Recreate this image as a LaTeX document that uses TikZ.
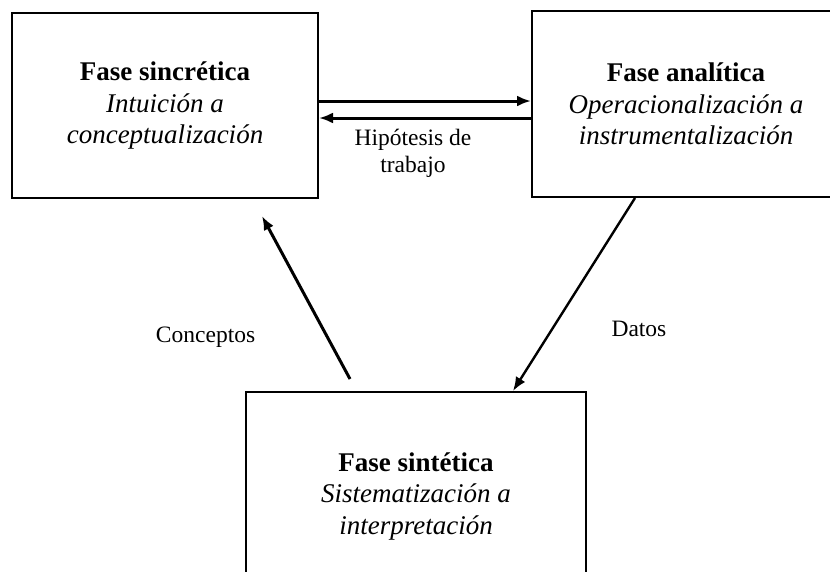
\documentclass[tikz,border=0pt]{standalone}
\usepackage{fontspec}
\setmainfont{Liberation Serif}
\usetikzlibrary{arrows.meta}

\begin{document}
\begin{tikzpicture}[x=1pt, y=-1pt, thick,
		fase/.style={draw, line width=2pt, align=center, font=\fontsize{27}{31.5}\selectfont},
		flecha/.style={line width=3pt, -{Latex[length=14pt, width=11pt]}},
		etiqueta/.style={font=\fontsize{23.5}{27}\selectfont, align=center}]
			\useasboundingbox (0,0) rectangle (830,571);
			\clip (0,0) rectangle (830,571);
			\node (A) at (165,105.5) [fase, minimum width=306pt, minimum height=185pt] {\textbf{Fase sincrética} \\ \textit{Intuición a} \\ \textit{conceptualización}};
			\node (B) at (686,104) [fase, minimum width=308pt, minimum height=186pt] {\textbf{Fase analítica} \\ \textit{Operacionalización a} \\ \textit{instrumentalización}};
			\node (C) at (416,496) [fase, minimum width=340pt, minimum height=208pt] {\textbf{Fase sintética} \\ \textit{Sistematización a} \\ \textit{interpretación}};
			\draw[flecha] ([yshift=4.5pt]A.east) -- ([yshift=4.5pt]A.east -| B.west);
			\draw[flecha] ([yshift=-12.5pt]A.east -| B.west) -- ([yshift=-12.5pt]A.east) node[midway, below, etiqueta, xshift=-12pt, yshift=-6pt] {Hipótesis de \\ trabajo};
			\draw[flecha] ([xshift=-66pt, yshift=12pt]C.north) -- ([xshift=97pt, yshift=-17pt]A.south) node[midway, left, etiqueta, xshift=-46pt, yshift=-40pt] {Conceptos};
			\draw[flecha, line width=2.4pt] ([xshift=-51pt]B.south) -- ([xshift=97pt]C.north) node[midway, right, etiqueta, xshift=33pt, yshift=-34pt] {Datos};
		\end{tikzpicture}
\end{document}
